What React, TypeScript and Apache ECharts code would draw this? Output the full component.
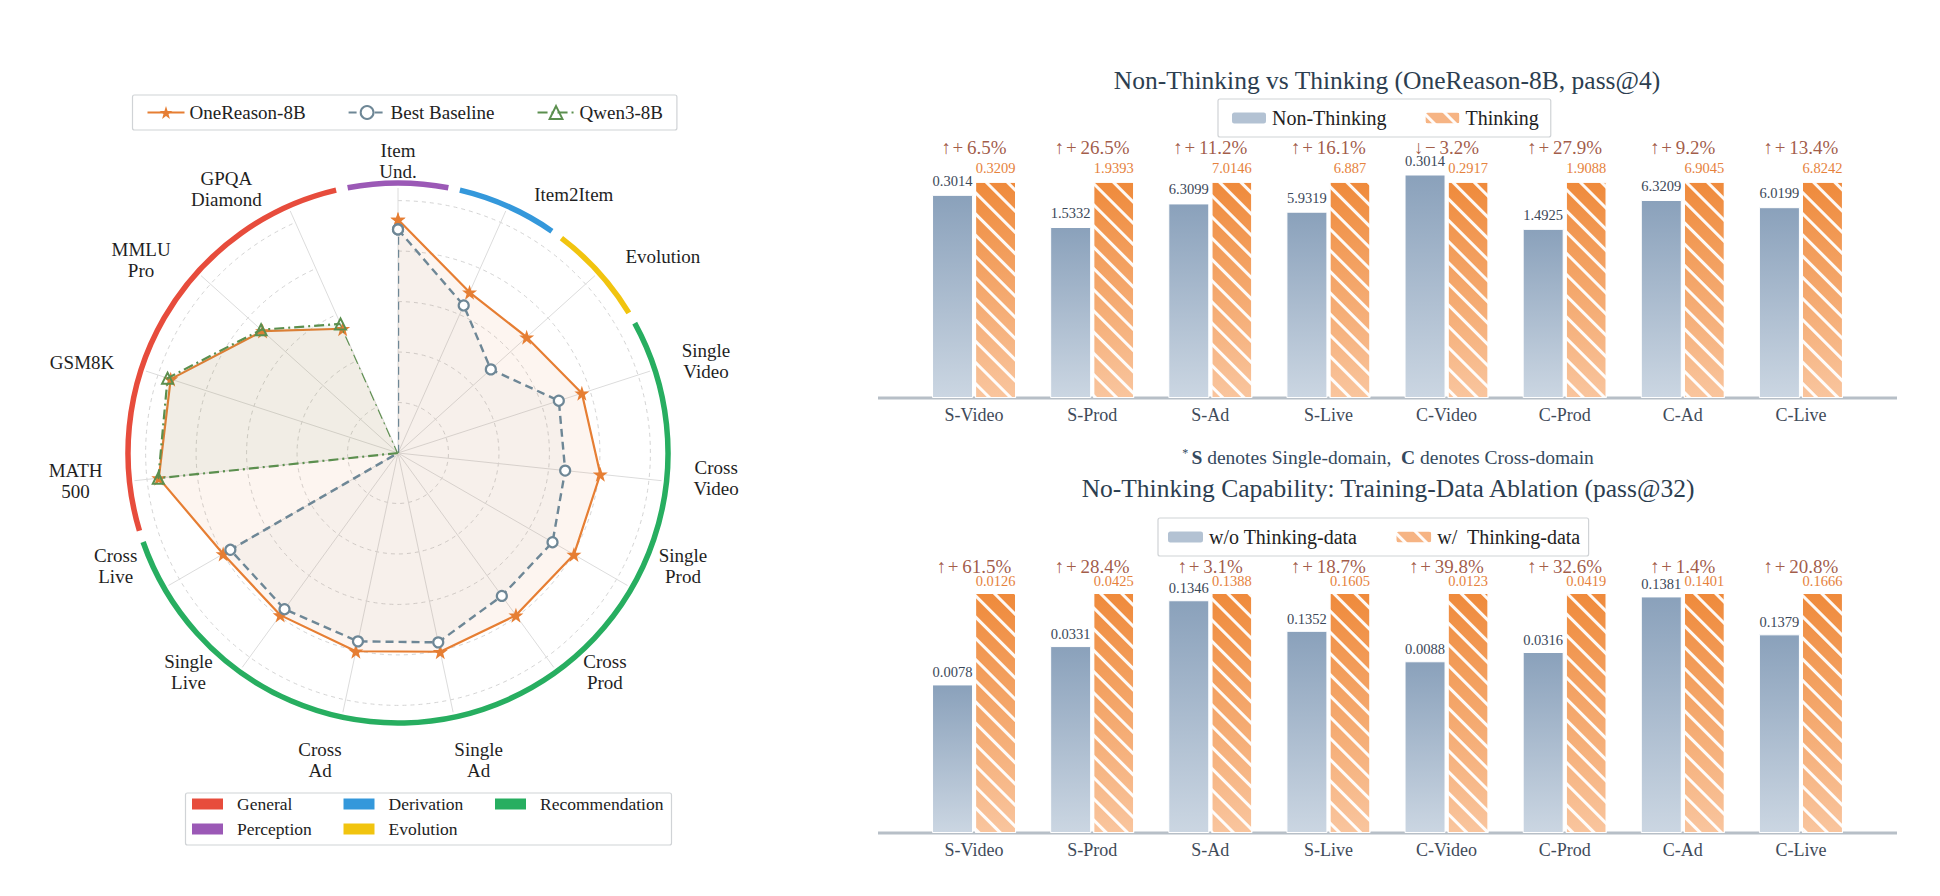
import { useEffect, useRef } from 'react';
import * as echarts from 'echarts';

const FONT = '"Liberation Serif", "DejaVu Serif", serif';

// ---------- Radar: axes listed clockwise from the top ----------
const AXES = [
  'Item\nUnd.', 'Item2Item', 'Evolution', 'Single\nVideo', 'Cross\nVideo',
  'Single\nProd', 'Cross\nProd', 'Single\nAd', 'Cross\nAd', 'Single\nLive',
  'Cross\nLive', 'MATH\n500', 'GSM8K', 'MMLU\nPro', 'GPQA\nDiamond',
];
const ONEREASON = [0.925, 0.697, 0.686, 0.766, 0.806, 0.805, 0.795, 0.805, 0.803, 0.794, 0.8, 0.953, 0.947, 0.722, 0.539];
const BASELINE = [0.886, 0.64, 0.495, 0.67, 0.666, 0.707, 0.7, 0.767, 0.763, 0.765, 0.767, 0, 0, 0, 0];
const QWEN = [0, 0, 0, 0, 0, 0, 0, 0, 0, 0, 0, 0.955, 0.96, 0.73, 0.56];

// Task groups drawn as coloured arcs round the radar (axis index ranges)
const GROUPS = [
  { name: 'General', color: '#e74c3c', from: 11, to: 14 },
  { name: 'Perception', color: '#9b59b6', from: 0, to: 0 },
  { name: 'Derivation', color: '#3498db', from: 1, to: 1 },
  { name: 'Evolution', color: '#f1c40f', from: 2, to: 2 },
  { name: 'Recommendation', color: '#27ae60', from: 3, to: 10 },
];

// ---------- Bar panels ----------
const CATS = ['S-Video', 'S-Prod', 'S-Ad', 'S-Live', 'C-Video', 'C-Prod', 'C-Ad', 'C-Live'];
const NON_THINKING = [0.3014, 1.5332, 6.3099, 5.9319, 0.3014, 1.4925, 6.3209, 6.0199];
const THINKING = [0.3209, 1.9393, 7.0146, 6.887, 0.2917, 1.9088, 6.9045, 6.8242];
const WO_THINK_DATA = [0.0078, 0.0331, 0.1346, 0.1352, 0.0088, 0.0316, 0.1381, 0.1379];
const W_THINK_DATA = [0.0126, 0.0425, 0.1388, 0.1605, 0.0123, 0.0419, 0.1401, 0.1666];

// Layout: radar centre and per-axis vertical nudge of the axis names (px, + = up)
const CX = 398;
const CY = 453;
const NAME_NUDGE = [0, 11, 15, 8, 3, 23, 0, -42, -42, 0, 23, 0, 7, 12, 16];

const STEP = 360 / AXES.length;
const DEG = Math.PI / 180;

const STAR = 'path://M50,0L61.8,35.1L98.1,35.1L68.8,56.8L79.4,91.9L50,70.2L20.6,91.9L31.2,56.8L1.9,35.1L38.2,35.1Z';

const polarPoints = (vals: number[]) => {
  const pt = (v: number, i: number) => (v > 0 ? [v, i] : { value: [0, i], symbol: 'none' });
  const pts: any[] = vals.map(pt);
  pts.push(pt(vals[0], 0));
  return pts;
};

const radarNameFormatter = (name: string) => {
  const i = AXES.indexOf(name);
  const t = (90 - i * STEP) * DEG;
  const c = Math.cos(t);
  const s = Math.sin(t);
  let style = 'c';
  if (Math.abs(c) > 0.05 && s > -0.9) style = c > 0 ? 'cl' : 'cr';
  let body = name.split('\n').map((l) => `{${style}|${l}}`).join('\n');
  const n = NAME_NUDGE[i];
  if (n > 0) body = `${body}\n{sp${n}| }`;
  if (n < 0) body = `{sp${-n}| }\n${body}`;
  return body;
};

const pctText = (a: number, b: number) => {
  const p = ((b - a) / a) * 100;
  const up = p >= 0;
  return `${up ? '↑' : '↓'}\u200a${up ? '+' : '−'}\u2009${Math.abs(p).toFixed(1)}%`;
};

const blueGrad = () =>
  new echarts.graphic.LinearGradient(0, 0, 0, 1, [
    { offset: 0, color: '#8aa1bb' },
    { offset: 1, color: '#cbd6e2' },
  ]);
const orangeGrad = () =>
  new echarts.graphic.LinearGradient(0, 0, 0, 1, [
    { offset: 0, color: '#ef8a3b' },
    { offset: 1, color: '#f9c59e' },
  ]);
const HATCH = {
  symbol: 'rect',
  symbolSize: 1,
  color: 'rgba(255,255,255,0.95)',
  backgroundColor: 'rgba(0,0,0,0)',
  dashArrayX: [1, 0],
  dashArrayY: [3, 12],
  rotation: Math.PI / 4,
};

function barPanel(
  idx: number,
  names: [string, string],
  base: number[],
  top: number[],
  labelGap: number,
  pctY: number,
) {
  const valStyle = { fontFamily: FONT, fontSize: 14.5 };
  return [
    {
      type: 'bar',
      name: names[0],
      xAxisIndex: idx,
      yAxisIndex: idx,
      data: base.map((v, i) => v / top[i]),
      barWidth: 41,
      barGap: '5%',
      itemStyle: { color: blueGrad(), borderColor: '#ffffff', borderWidth: 1 },
      label: {
        show: true,
        position: 'top',
        distance: labelGap,
        formatter: (p: any) => String(base[p.dataIndex]),
        color: '#3b4859',
        ...valStyle,
      },
      silent: true,
    },
    {
      type: 'bar',
      name: names[1],
      xAxisIndex: idx,
      yAxisIndex: idx,
      data: top.map(() => 1),
      barWidth: 41,
      barGap: '5%',
      itemStyle: { color: orangeGrad(), borderColor: '#ffffff', borderWidth: 1, decal: HATCH },
      label: {
        show: true,
        position: 'top',
        distance: labelGap,
        formatter: (p: any) => String(top[p.dataIndex]),
        color: '#e6823c',
        ...valStyle,
      },
      silent: true,
    },
    {
      type: 'scatter',
      xAxisIndex: idx,
      yAxisIndex: idx,
      data: CATS.map(() => pctY),
      symbolSize: 1,
      itemStyle: { color: 'rgba(0,0,0,0)' },
      label: {
        show: true,
        position: 'inside',
        formatter: (p: any) => pctText(base[p.dataIndex], top[p.dataIndex]),
        color: '#8a3116',
        fontFamily: FONT,
        fontSize: 19,
      },
      silent: true,
    },
  ];
}

function buildOption() {
  const nameStyle = { fontFamily: FONT, fontSize: 19, color: '#1f1f1f', align: 'center', lineHeight: 21 };
  const rich: Record<string, any> = {
    c: nameStyle,
    cl: { ...nameStyle, padding: [0, 0, 0, 26] },
    cr: { ...nameStyle, padding: [0, 26, 0, 0] },
  };
  NAME_NUDGE.forEach((n) => {
    const k = Math.abs(n);
    if (k > 0) rich[`sp${k}`] = { fontSize: 2, lineHeight: 2 * k, color: 'rgba(0,0,0,0)' };
  });

  const arcs = GROUPS.map((g) => {
    const a0 = 90 - STEP * g.from + STEP / 2 - 1.25;
    const a1 = 90 - STEP * g.to - STEP / 2 + 1.25;
    return {
      type: 'arc',
      silent: true,
      shape: { cx: CX, cy: CY, r: 270, startAngle: -a0 * DEG, endAngle: -a1 * DEG, clockwise: true },
      style: { stroke: g.color, lineWidth: 5.5, fill: null, lineCap: 'butt' },
    };
  });

  // category legend under the radar, filled column by column
  const legendCols = [192, 343.5, 495];
  const legendRows = [804, 829];
  const groupLegend: any[] = [
    {
      type: 'rect',
      silent: true,
      shape: { x: 185.5, y: 793, width: 486, height: 52, r: 2 },
      style: { fill: '#ffffff', stroke: '#d0d3d6', lineWidth: 1.2 },
    },
  ];
  GROUPS.forEach((g, i) => {
    const x = legendCols[Math.floor(i / 2)];
    const y = legendRows[i % 2];
    groupLegend.push({
      type: 'rect',
      silent: true,
      shape: { x, y: y - 5.5, width: 31, height: 11 },
      style: { fill: g.color },
    });
    groupLegend.push({
      type: 'text',
      silent: true,
      x: x + 45,
      y,
      style: { text: g.name, fontFamily: FONT, fontSize: 17.5, fill: '#222', textVerticalAlign: 'middle' },
    });
  });

  const texts: any[] = [
    {
      type: 'text', silent: true, x: 1387, y: 80,
      style: { text: 'Non-Thinking vs Thinking (OneReason-8B, pass@4)', fontFamily: FONT, fontSize: 25.5, fill: '#2c3e50', textAlign: 'center', textVerticalAlign: 'middle' },
    },
    {
      type: 'text', silent: true, x: 1388, y: 457,
      style: {
        text: '{s|*} {b|S}{n| denotes Single-domain,  }{b|C}{n| denotes Cross-domain}',
        textAlign: 'center',
        textVerticalAlign: 'middle',
        rich: {
          s: { fontFamily: FONT, fontSize: 12, fill: '#34495e', verticalAlign: 'top' },
          b: { fontFamily: FONT, fontSize: 19.5, fontWeight: 'bold', fill: '#34495e' },
          n: { fontFamily: FONT, fontSize: 19.5, fill: '#34495e' },
        },
      },
    },
    {
      type: 'text', silent: true, x: 1388, y: 488,
      style: { text: 'No-Thinking Capability: Training-Data Ablation (pass@32)', fontFamily: FONT, fontSize: 25.5, fill: '#2c3e50', textAlign: 'center', textVerticalAlign: 'middle' },
    },
    { type: 'line', silent: true, shape: { x1: 878, y1: 398, x2: 1897, y2: 398 }, style: { stroke: '#b7bfc7', lineWidth: 3 } },
    { type: 'line', silent: true, shape: { x1: 878, y1: 833, x2: 1897, y2: 833 }, style: { stroke: '#b7bfc7', lineWidth: 3 } },
  ];

  const catAxis = (gridIndex: number) => ({
    type: 'category',
    gridIndex,
    data: CATS,
    axisLine: { show: false },
    axisTick: { show: false },
    axisLabel: { color: '#3f4b5a', fontFamily: FONT, fontSize: 18, margin: 8 },
  });
  const valAxis = (gridIndex: number) => ({ type: 'value', gridIndex, min: 0, max: 1.2, show: false });

  const legendBase = {
    orient: 'horizontal',
    backgroundColor: '#ffffff',
    borderColor: '#d0d3d6',
    borderWidth: 1.2,
    borderRadius: 2,
    selectedMode: false,
  };

  return {
    animation: false,
    backgroundColor: '#ffffff',
    textStyle: { fontFamily: FONT },
    radar: {
      center: [CX, CY],
      radius: 252,
      startAngle: 90,
      shape: 'circle',
      nameGap: 19,
      indicator: [AXES[0], ...AXES.slice(1).reverse()].map((name) => ({ name, max: 1 })),
      axisName: { formatter: radarNameFormatter, rich },
      axisLine: { show: false },
      splitLine: { show: false },
      splitArea: { show: false },
    },
    polar: { center: [CX, CY], radius: 265 },
    angleAxis: {
      type: 'category',
      data: AXES,
      startAngle: 90,
      clockwise: true,
      boundaryGap: false,
      axisLine: { show: false },
      axisTick: { show: false },
      axisLabel: { show: false },
      splitLine: { show: true, lineStyle: { color: '#dcdcdc', width: 1 } },
    },
    radiusAxis: {
      min: 0,
      max: 1.05,
      interval: 0.2,
      axisLine: { show: false },
      axisTick: { show: false },
      axisLabel: { show: false },
      splitLine: {
        show: true,
        lineStyle: {
          color: ['#d4d4d4', '#d4d4d4', '#d4d4d4', '#d4d4d4', '#d4d4d4', '#d4d4d4', 'rgba(0,0,0,0)'],
          type: [4, 4],
          width: 1,
        },
      },
    },
    grid: [
      { left: 915, width: 945, top: 398 - 1.2 * 216.3, height: 1.2 * 216.3 },
      { left: 915, width: 945, top: 833 - 1.2 * 240, height: 1.2 * 240 },
    ],
    xAxis: [catAxis(0), catAxis(1)],
    yAxis: [valAxis(0), valAxis(1)],
    legend: [
      {
        ...legendBase,
        data: ['OneReason-8B', 'Best Baseline', 'Qwen3-8B'],
        left: 132.5,
        top: 95,
        padding: [8, 14],
        itemGap: 42,
        itemWidth: 37,
        itemHeight: 16,
        textStyle: { fontFamily: FONT, fontSize: 19, color: '#222' },
      },
      {
        ...legendBase,
        data: [
          { name: 'Non-Thinking', itemStyle: { color: '#b3c2d3' } },
          { name: 'Thinking', itemStyle: { color: '#f6b484' } },
        ],
        left: 1218,
        top: 99,
        padding: [9, 12],
        itemGap: 37,
        itemWidth: 36,
        itemHeight: 13,
        textStyle: { fontFamily: FONT, fontSize: 20, color: '#222' },
      },
      {
        ...legendBase,
        data: [
          { name: 'w/o Thinking-data', itemStyle: { color: '#b3c2d3' } },
          { name: 'w/  Thinking-data', itemStyle: { color: '#f6b484' } },
        ],
        left: 1158,
        top: 518,
        padding: [9, 8],
        itemGap: 37,
        itemWidth: 37,
        itemHeight: 13,
        textStyle: { fontFamily: FONT, fontSize: 20, color: '#222' },
      },
    ],
    series: [
      {
        type: 'line',
        name: 'OneReason-8B',
        coordinateSystem: 'polar',
        data: polarPoints(ONEREASON),
        symbol: STAR,
        symbolSize: 15,
        showAllSymbol: true,
        lineStyle: { color: '#e67e33', width: 2.2 },
        itemStyle: { color: '#e67e33' },
        areaStyle: { color: 'rgba(232,128,58,0.11)' },
        silent: true,
        z: 3,
      },
      {
        type: 'line',
        name: 'Best Baseline',
        coordinateSystem: 'polar',
        data: polarPoints(BASELINE),
        symbol: 'circle',
        symbolSize: 10,
        showAllSymbol: true,
        lineStyle: { color: '#6e8796', width: 2.4, type: [8, 5] },
        itemStyle: { color: '#ffffff', borderColor: '#6e8796', borderWidth: 2.2 },
        areaStyle: { color: 'rgba(110,135,150,0.06)' },
        silent: true,
        z: 4,
      },
      {
        type: 'line',
        name: 'Qwen3-8B',
        coordinateSystem: 'polar',
        data: polarPoints(QWEN),
        symbol: 'triangle',
        symbolSize: 11,
        showAllSymbol: true,
        lineStyle: { color: '#5b8f4e', width: 2.2, type: [10, 4, 2, 4] },
        itemStyle: { color: 'rgba(255,255,255,0)', borderColor: '#5b8f4e', borderWidth: 2 },
        areaStyle: { color: 'rgba(91,143,78,0.10)' },
        silent: true,
        z: 5,
      },
      ...barPanel(0, ['Non-Thinking', 'Thinking'], NON_THINKING, THINKING, 6.5, 1.16),
      ...barPanel(1, ['w/o Thinking-data', 'w/  Thinking-data'], WO_THINK_DATA, W_THINK_DATA, 4.5, 1.1125),
    ],
    graphic: [...arcs, ...groupLegend, ...texts],
  };
}

export default function App() {
  const ref = useRef<HTMLDivElement>(null);
  useEffect(() => {
    if (!ref.current) return;
    const chart = echarts.init(ref.current, undefined, { renderer: 'svg' });
    chart.setOption(buildOption() as any);
    return () => chart.dispose();
  }, []);
  return (
    <div
      ref={ref}
      style={{ position: 'absolute', left: 0, top: 0, width: 1940, height: 896, background: '#ffffff' }}
    />
  );
}
